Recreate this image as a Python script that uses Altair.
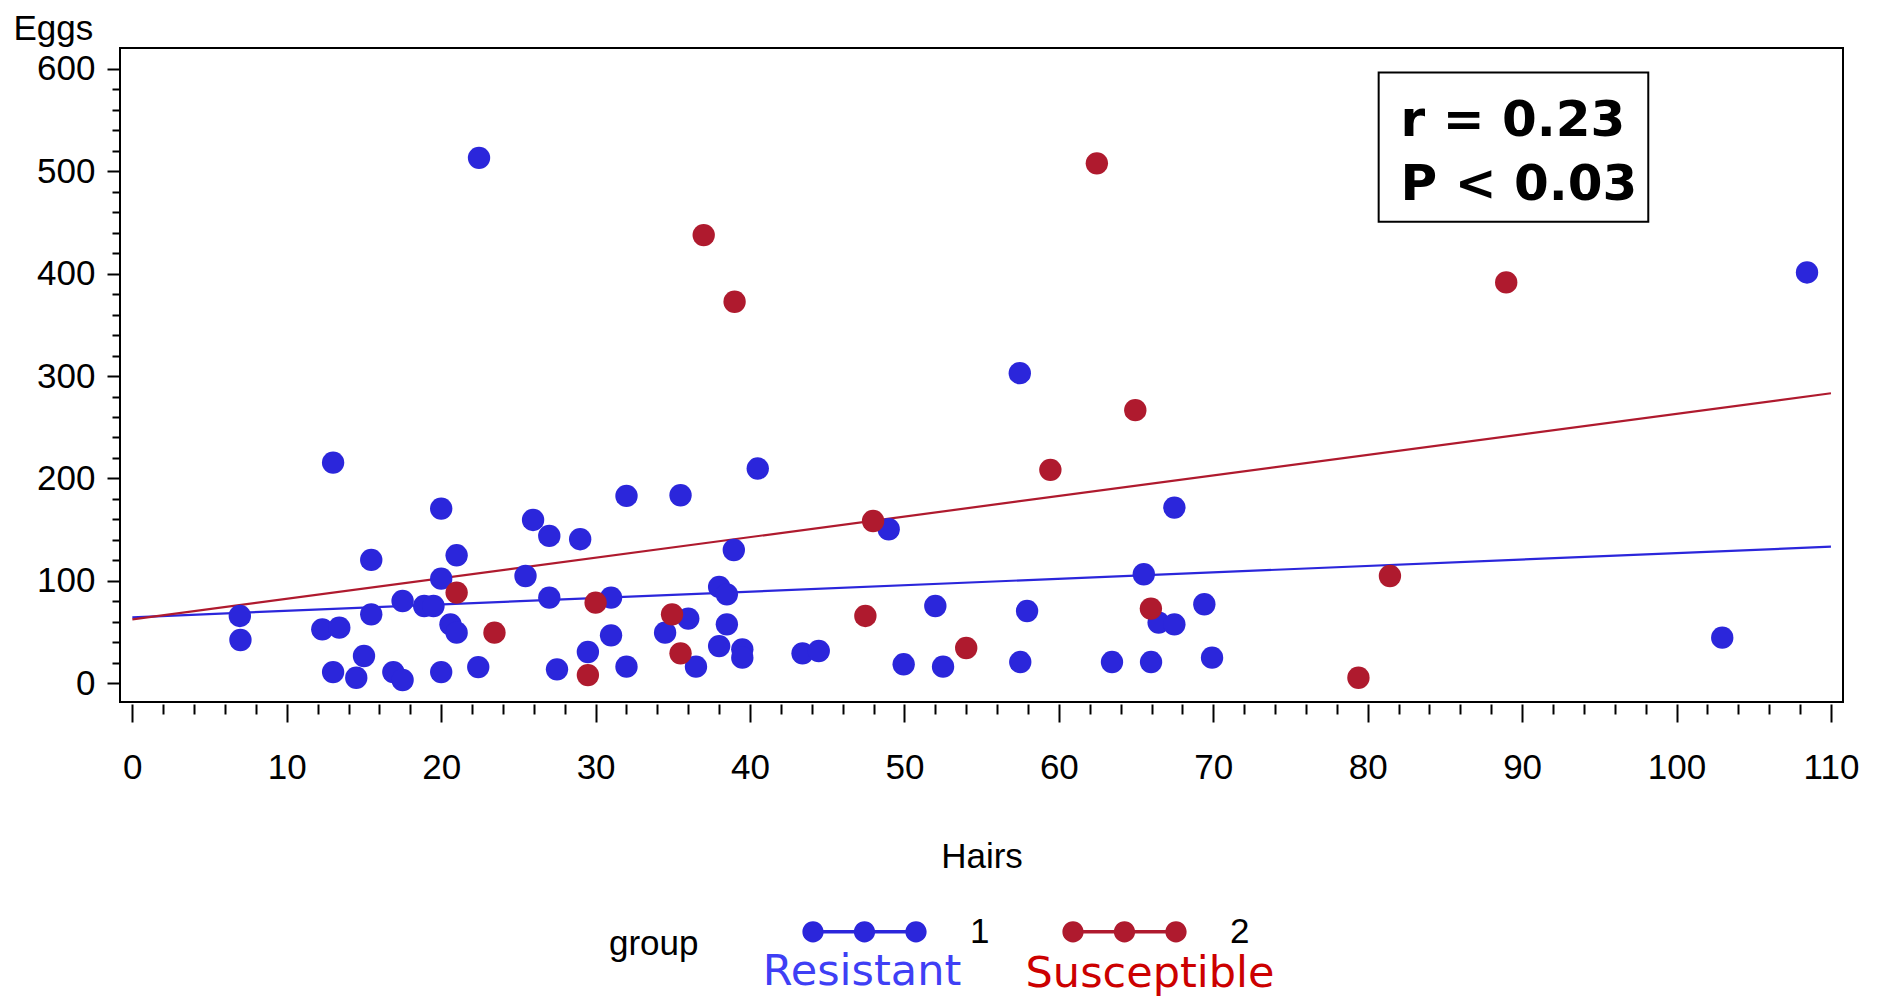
import altair as alt
import pandas as pd

# ---------------- data ----------------
res_hairs = [6.96, 7.0, 12.3, 13.4, 13.0, 13.0, 14.5, 15.0, 15.47, 15.47, 16.9, 17.5, 17.5,
             18.9, 19.5, 20.0, 20.0, 20.0, 20.6, 21.0, 21.0, 22.45, 22.4, 25.46, 25.95, 27.0,
             27.0, 27.5, 29.0, 29.5, 31.0, 31.0, 32.0, 32.0, 34.5, 35.5, 36.0, 36.5, 38.0,
             38.5, 38.0, 38.5, 38.95, 39.5, 39.5, 40.5, 43.4, 44.45, 48.98, 49.95, 52.0, 52.5,
             57.47, 57.5, 57.94, 63.44, 65.5, 65.97, 66.46, 67.48, 67.48, 69.42, 69.92,
             102.96, 108.45]
res_eggs = [65.8, 42.3, 52.7, 54.4, 215.5, 11.0, 5.5, 26.7, 120.5, 67.4, 11.0, 3.3, 80.4,
            75.5, 75.5, 170.6, 102.2, 11.0, 57.6, 49.5, 125.0, 513.0, 15.9, 104.8, 159.5, 143.9,
            83.7, 13.7, 140.7, 30.6, 83.7, 46.9, 183.0, 16.3, 49.5, 183.6, 63.2, 16.3, 94.1,
            86.9, 36.4, 57.6, 130.2, 33.2, 25.1, 209.7, 29.3, 31.6, 150.4, 18.6, 75.5, 16.3,
            302.8, 20.8, 70.6, 20.8, 106.5, 20.8, 59.3, 57.6, 171.6, 77.2, 25.1,
            44.6, 401.1]

sus_hairs = [21.0, 23.45, 30.0, 29.5, 34.95, 35.5, 37.0, 39.0, 47.97, 47.47, 54.0, 59.45,
             62.46, 64.95, 65.96, 79.4, 81.44, 88.97]
sus_eggs = [88.6, 49.5, 78.8, 8.1, 67.4, 29.3, 437.6, 372.5, 158.5, 65.8, 34.5, 208.4,
            507.6, 266.7, 73.0, 5.5, 104.8, 391.4]

fit_hairs = [0, 110]
res_fit = [64.5, 133.4]
sus_fit = [62.5, 283.2]

groups = ["1", "2"]
group_names = ["Resistant", "Susceptible"]
stat_lines = ["r = 0.23", "P < 0.03"]

x_ticks = list(range(0, 111, 2))
y_ticks = list(range(0, 601, 20))

# ---------------- tables ----------------
points = pd.DataFrame({
    "hairs": res_hairs + sus_hairs,
    "eggs": res_eggs + sus_eggs,
    "group": ["1"] * len(res_hairs) + ["2"] * len(sus_hairs),
})
fits = pd.DataFrame({
    "hairs": fit_hairs + fit_hairs,
    "eggs": res_fit + sus_fit,
    "group": ["1", "1", "2", "2"],
})
box = pd.DataFrame({"x1": [80.71], "x2": [98.17], "y1": [450.6], "y2": [596.4]})
stats = pd.DataFrame({"x": [82.13, 82.13], "y": [534.6, 472.1], "text": stat_lines})

BLUE = "#2B26DB"
RED = "#AF1A2E"
FONT = "Liberation Sans"
FS = 35

xscale = alt.Scale(domain=[-0.8, 110.78], nice=False, zero=False)
yscale = alt.Scale(domain=[-18.2, 620.2], nice=False, zero=False)
cscale = alt.Scale(domain=groups, range=[BLUE, RED])

x_axis = alt.Axis(
    values=x_ticks, tickCount=500, format="d",
    labelExpr="datum.value % 10 === 0 ? datum.label : ''",
    tickSize={"condition": {"test": "datum.value % 10 === 0", "value": 18}, "value": 10},
    tickWidth=2, tickColor="black", domain=False, grid=False, offset=2,
    labelFont=FONT, labelFontSize=FS, labelColor="black", labelPadding=28,
    labelOverlap=False, labelFlush=False,
    title="Hairs", titleFont=FONT, titleFontSize=FS, titleFontWeight="normal",
    titleColor="black", titleX=861.5, titleY=163, titleAlign="center",
    titleBaseline="alphabetic",
)
y_axis = alt.Axis(
    values=y_ticks, tickCount=500, format="d",
    labelExpr="datum.value % 100 === 0 ? datum.label : ''",
    tickSize={"condition": {"test": "datum.value % 100 === 0", "value": 13}, "value": 8},
    tickWidth=2, tickColor="black", domain=False, grid=False,
    labelFont=FONT, labelFontSize=FS, labelColor="black", labelPadding=12,
    labelOverlap=False, labelFlush=False,
    title="Eggs", titleFont=FONT, titleFontSize=FS, titleFontWeight="normal",
    titleColor="black", titleAngle=0, titleAlign="left", titleBaseline="alphabetic",
    titleX=-107, titleY=-9,
)

def circ(cx, r=0.17):
    return f"M{cx - r:.3f} 0A{r} {r} 0 1 1 {cx + r:.3f} 0A{r} {r} 0 1 1 {cx - r:.3f} 0Z"

legend_path = (circ(-0.824) + circ(0.0) + circ(0.824)
               + "M-0.824 -0.028L0.824 -0.028L0.824 0.028L-0.824 0.028Z")

legend = alt.Legend(
    orient="none", legendX=489, legendY=821, direction="horizontal",
    title=["", "group"], titleOrient="left", titleAnchor="middle", titleBaseline="top",
    titleLineHeight=36,
    titleFont=FONT, titleFontSize=FS, titleFontWeight="normal", titleColor="black",
    titlePadding=103,
    labelFont=FONT, labelFontSize=FS, labelColor="black", labelOffset=43,
    columnPadding=72, symbolType=legend_path, symbolSize=15625,
    symbolStrokeWidth=0, symbolOpacity=1, padding=0,
)

line_layers = []
for g, col in zip(groups, [BLUE, RED]):
    line_layers.append(
        alt.Chart(fits).transform_filter(alt.datum.group == g)
        .mark_line(strokeWidth=2.2, color=col)
        .encode(x=alt.X("hairs:Q", scale=xscale, axis=x_axis),
                y=alt.Y("eggs:Q", scale=yscale, axis=y_axis))
    )

dots = alt.Chart(points).mark_point(filled=True, size=500, opacity=1, strokeWidth=0,
                                    shape="circle").encode(
    x=alt.X("hairs:Q", scale=xscale),
    y=alt.Y("eggs:Q", scale=yscale),
    color=alt.Color("group:N", scale=cscale, legend=legend),
)

rect = alt.Chart(box).mark_rect(fill="white", stroke="black", strokeWidth=2).encode(
    x=alt.X("x1:Q", scale=xscale), x2="x2:Q",
    y=alt.Y("y1:Q", scale=yscale), y2="y2:Q",
)

stat_text = alt.Chart(stats).mark_text(
    align="left", baseline="alphabetic", font="DejaVu Sans", fontSize=50,
    fontWeight="bold", color="black",
).encode(
    x=alt.X("x:Q", scale=xscale), y=alt.Y("y:Q", scale=yscale), text="text:N",
)

res_label = alt.Chart(pd.DataFrame({"t": [group_names[0]]})).mark_text(
    align="center", baseline="alphabetic", font="DejaVu Sans", fontSize=43, color="#3F3FF5",
).encode(x=alt.value(742), y=alt.value(937), text="t:N")

sus_label = alt.Chart(pd.DataFrame({"t": [group_names[1]]})).mark_text(
    align="center", baseline="alphabetic", font="DejaVu Sans", fontSize=43, color="#CC0000",
).encode(x=alt.value(1030), y=alt.value(939), text="t:N")

chart = alt.layer(*line_layers, dots, rect, stat_text, res_label, sus_label).properties(
    width=1723, height=654,
    autosize=alt.AutoSizeParams(type="none"),
    padding={"left": 112, "top": 40, "right": 28, "bottom": 296},
    background="white",
).configure_view(stroke="black", strokeWidth=2)

chart.save("out.html", embed_options={"renderer": "svg", "actions": False})
